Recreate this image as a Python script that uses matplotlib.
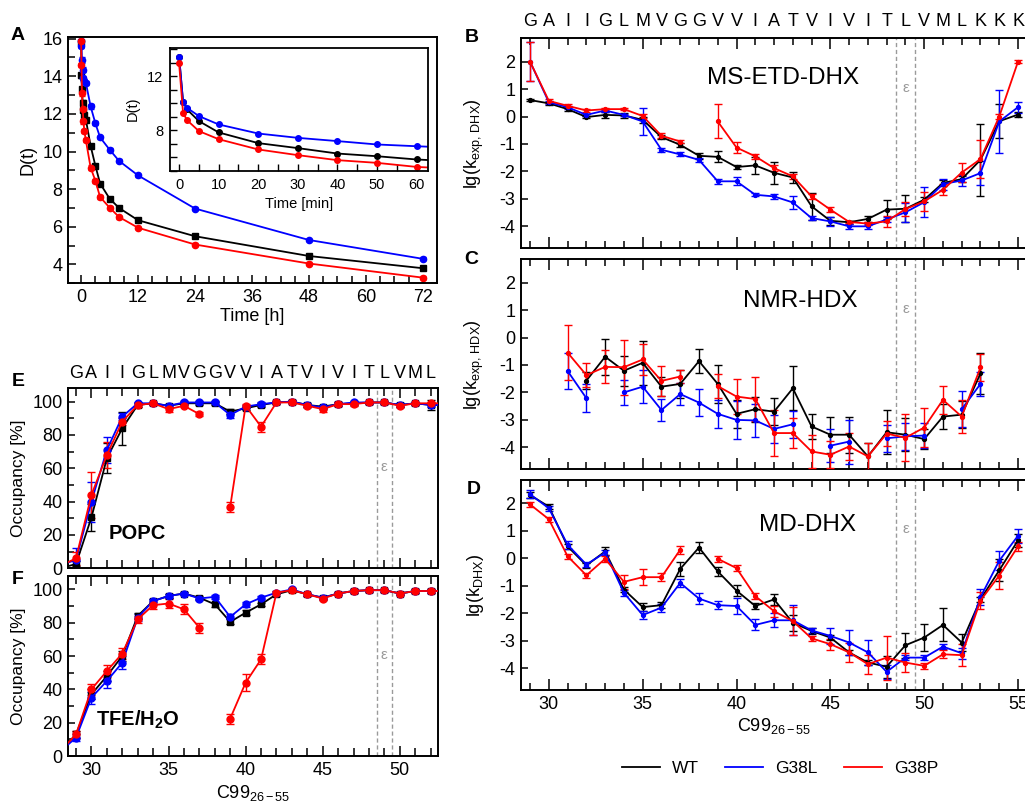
import numpy as np
import matplotlib
matplotlib.use('Agg')
import matplotlib.pyplot as plt
from matplotlib.ticker import MultipleLocator
from matplotlib.lines import Line2D

plt.rcParams['font.family'] = ['Liberation Sans', 'DejaVu Sans']
plt.rcParams['mathtext.fontset'] = 'custom'
plt.rcParams['mathtext.rm'] = 'Liberation Sans'
plt.rcParams['mathtext.it'] = 'Liberation Sans:italic'
plt.rcParams['mathtext.bf'] = 'Liberation Sans:bold'
plt.rcParams['axes.unicode_minus'] = False

nan = np.nan
variants = ['WT', 'G38L', 'G38P']
colors = {'WT': '#000000', 'G38L': '#0000ff', 'G38P': '#ff0000'}

# ---------------- Panel A (hours) ----------------
time_h = [0, 0.08, 0.17, 0.33, 0.5, 0.67, 1, 2, 3, 4, 6, 8, 12, 24, 48, 72]
A_WT = [15.8, 14.05, 13.3, 12.6, 12.2, 11.95, 11.7, 10.3, 9.25, 8.3, 7.5, 7.0, 6.35, 5.5, 4.45, 3.8]
A_G38L = [15.85, 15.6, 14.85, 14.35, 13.9, 13.75, 13.65, 12.4, 11.5, 10.75, 10.1, 9.5, 8.73, 6.97, 5.3, 4.3]
A_G38P = [15.85, 14.6, 13.1, 12.25, 11.6, 11.1, 10.6, 9.15, 8.45, 7.58, 7.02, 6.52, 5.95, 5.06, 4.05, 3.3]
A_err = [0.1, 0.12, 0.15, 0.15, 0.12, 0.1, 0.1, 0.12, 0.1, 0.1, 0.08, 0.08, 0.06, 0.08, 0.06, 0.08]

# inset (minutes)
time_min = [0, 1, 2, 5, 10, 20, 30, 40, 50, 60, 90]
I_WT = [13.43, 10.1, 9.53, 8.67, 7.83, 7.04, 6.67, 6.27, 6.07, 5.83, 5.4]
I_G38L = [13.43, 10.1, 9.65, 9.04, 8.42, 7.75, 7.43, 7.19, 6.94, 6.81, 6.45]
I_G38P = [12.94, 9.28, 8.74, 7.93, 7.33, 6.57, 6.15, 5.78, 5.58, 5.28, 4.85]

# ---------------- Panels B-D (residues 29-55) ----------------
residues = list(range(29, 56))
seq = ['G', 'A', 'I', 'I', 'G', 'L', 'M', 'V', 'G', 'G', 'V', 'V', 'I', 'A', 'T',
       'V', 'I', 'V', 'I', 'T', 'L', 'V', 'M', 'L', 'K', 'K', 'K']

B_WT = [0.6, 0.48, 0.27, -0.02, 0.06, 0.04, -0.12, -0.75, -1.03, -1.43, -1.47, -1.84, -1.78, -2.05,
        -2.22, -3.27, -3.8, -3.85, -3.73, -3.39, -3.36, -3.03, -2.42, -2.28, -1.58, -0.17, 0.07]
B_WT_err = [0.05, 0.05, 0.07, 0.05, 0.1, 0.1, 0.1, 0.07, 0.08, 0.1, 0.2, 0.08, 0.3, 0.4, 0.2,
            0.5, 0.15, 0.05, 0.1, 0.35, 0.5, 0.1, 0.1, 0.1, 1.3, 0.62, 0.1]
B_G38L = [2.0, 0.52, 0.34, 0.06, 0.22, 0.06, -0.18, -1.21, -1.38, -1.58, -2.36, -2.36, -2.85, -2.91,
          -3.13, -3.7, -3.82, -4.0, -4.0, -3.75, -3.49, -3.12, -2.46, -2.33, -2.06, -0.18, 0.34]
B_G38L_err = [0.7, 0.05, 0.05, 0.05, 0.05, 0.05, 0.5, 0.07, 0.07, 0.08, 0.08, 0.15, 0.05, 0.1, 0.25,
              0.08, 0.15, 0.1, 0.1, 0.1, 0.35, 0.55, 0.2, 0.2, 0.45, 1.15, 0.2]
B_G38P = [2.0, 0.57, 0.39, 0.22, 0.27, 0.27, 0.02, -0.7, -0.91, nan, -0.18, -1.13, -1.45, -1.88,
          -2.18, -2.91, -3.39, -3.84, -3.9, -3.82, -3.37, -3.09, -2.67, -2.04, -1.55, 0.0, 2.0]
B_G38P_err = [0.7, 0.08, 0.05, 0.05, 0.05, 0.05, 0.08, 0.1, 0.07, nan, 0.62, 0.2, 0.1, 0.1, 0.1,
              0.1, 0.08, 0.05, 0.05, 0.2, 0.25, 0.35, 0.2, 0.35, 0.7, 0.1, 0.05]

C_WT = [nan, nan, nan, -1.57, -0.70, -1.21, -0.92, -1.79, -1.69, -0.86, -1.69, -2.78, -2.61, -2.70,
        -1.85, -3.24, -3.54, -3.54, -4.33, -3.45, -3.54, -3.70, -2.88, -2.81, -1.31, nan, nan]
C_WT_err = [nan, nan, nan, 0.3, 0.65, 0.55, 0.8, 0.35, 0.5, 0.45, 0.7, 0.5, 0.45, 0.5, 0.8, 0.45,
            0.65, 0.65, 0.5, 0.8, 0.6, 0.35, 0.45, 0.5, 0.75, nan, nan]
C_G38L = [nan, nan, -1.22, -2.21, nan, -2.0, -1.79, -2.64, -2.06, -2.37, -2.78, -3.0, -3.02, -3.33,
          -3.16, nan, -3.94, -3.79, nan, -3.67, -3.6, -3.57, nan, -2.61, -1.69, nan, nan]
C_G38L_err = [nan, nan, 0.65, 0.5, nan, 0.45, 0.6, 0.4, 0.4, 0.5, 0.5, 0.7, 0.6, 0.5, 0.5, nan,
              0.6, 0.8, nan, 0.5, 0.5, 0.45, nan, 0.65, 0.45, nan, nan]
C_G38P = [nan, nan, -0.55, -1.37, -1.07, -1.08, -0.80, -1.58, -1.42, nan, -1.77, -2.15, -2.24, -3.48,
          -3.48, -4.15, -4.27, -3.97, -4.33, -3.5, -3.65, -3.28, -2.27, -2.88, -1.09, nan, nan]
C_G38P_err = [nan, nan, 1.0, 0.45, 0.6, 1.0, 0.55, 0.55, 0.25, nan, 0.45, 0.65, 0.8, 0.85, 0.55,
              0.6, 0.5, 0.5, 0.5, 0.45, 0.85, 0.7, 0.5, 0.6, 0.5, nan, nan]

D_WT = [2.30, 1.88, 0.43, -0.26, 0.25, -1.14, -1.78, -1.71, -0.39, 0.39, -0.48, -1.18, -1.74, -1.50,
        -2.35, -2.65, -2.89, -3.43, -3.80, -3.95, -3.17, -2.89, -2.43, -3.07, -1.50, -0.44, 0.65]
D_WT_err = [0.1, 0.08, 0.1, 0.1, 0.15, 0.1, 0.15, 0.1, 0.25, 0.2, 0.15, 0.2, 0.1, 0.2, 0.3, 0.1,
            0.1, 0.1, 0.1, 0.4, 0.45, 0.5, 0.6, 0.3, 0.1, 0.4, 0.25]
D_G38L = [2.33, 1.82, 0.49, -0.23, 0.21, -1.26, -2.07, -1.80, -0.90, -1.47, -1.71, -1.74, -2.43, -2.26,
          -2.26, -2.63, -2.83, -3.07, -3.43, -4.14, -3.62, -3.62, -3.22, -3.46, -1.42, -0.09, 0.82]
D_G38L_err = [0.15, 0.1, 0.15, 0.1, 0.1, 0.1, 0.15, 0.15, 0.15, 0.2, 0.15, 0.3, 0.2, 0.25, 0.55,
              0.1, 0.3, 0.45, 0.45, 0.25, 0.1, 0.1, 0.1, 0.2, 0.3, 0.35, 0.25]
D_G38P = [1.96, 1.42, 0.07, -0.62, -0.02, -0.86, -0.69, -0.69, 0.31, nan, -0.02, -0.36, -1.38, -1.93,
          -2.29, -2.92, -3.13, -3.43, -3.86, -3.62, -3.80, -3.92, -3.50, -3.53, -1.54, -0.63, 0.43]
D_G38P_err = [0.1, 0.1, 0.1, 0.1, 0.1, 0.25, 0.3, 0.15, 0.15, nan, 0.1, 0.1, 0.1, 0.2, 0.5, 0.1,
              0.2, 0.35, 0.35, 0.8, 0.35, 0.1, 0.15, 0.4, 0.3, 0.5, 0.15]

# ---------------- Panels E-F (residues 28-53) ----------------
res_EF = list(range(28, 54))
seq_EF = ['G', 'A', 'I', 'I', 'G', 'L', 'M', 'V', 'G', 'G', 'V', 'V', 'I', 'A', 'T',
          'V', 'I', 'V', 'I', 'T', 'L', 'V', 'M', 'L']
E_WT = [0, 2.6, 30.5, 66, 84, 98, 99, 97.5, 99, 99, 99, 94, 96, 98, 99.5, 100, 98, 97, 98.5, 99,
        99.5, 99.5, 98, 99, 98, 98]
E_WT_err = [0, 1.5, 8, 9, 10, 1, 1, 1, 1, 1, 1, 1.5, 1, 1, 1, 1, 1, 1, 1, 1, 1, 1, 1, 1, 3, 1]
E_G38L = [2, 5, 40, 71, 91, 99, 99, 97.5, 99.5, 99.5, 99.5, 92, 97, 98.5, 99.5, 100, 98, 96.5, 98.5,
          99.5, 99.5, 99.5, 98, 99, 98, 98]
E_G38L_err = [0, 7, 12, 8, 2, 1, 1, 1, 1, 1, 1, 2, 1, 1, 1, 1, 1, 1, 1, 1, 1, 1, 1, 1, 1, 1]
E_G38P = [1.5, 6, 44, 68, 88, 98, 99, 95.5, 97.5, 92.5, nan, 37, 97.5, 85, 99.5, 99.5, 97.5, 95.5,
          98.5, 98.5, 99.5, 99.5, 97.5, 99, 99, 99]
E_G38P_err = [0, 4, 14, 8, 2, 1, 1, 1.5, 1, 1, nan, 3, 1, 3, 1, 1, 1, 1.5, 1, 1, 1, 1, 1, 1, 1, 1]

F_WT = [3, 13, 37, 48, 60, 84, 93, 96, 97.5, 95, 91, 80.5, 86, 91, 97, 99.5, 97, 95, 97.5, 99, 99.5,
        99.5, 97.5, 99, 99, 99]
F_WT_err = [1, 2, 3, 3, 3, 2, 1.5, 1, 1, 1, 1.5, 1.5, 1.5, 1, 1, 1, 1, 1, 1, 1, 1, 1, 1, 1, 1, 1]
F_G38L = [3, 11, 35, 45, 56, 83, 93, 96, 97.5, 94.5, 95.5, 83.5, 91, 95, 98, 100, 97, 95, 97.5, 99,
          99.5, 99.5, 97.5, 99, 99, 99]
F_G38L_err = [1, 2, 3.5, 4, 4, 2, 1.5, 1, 1, 1, 1, 1.5, 1.5, 1, 1, 1, 1, 1, 1, 1, 1, 1, 1, 1, 1, 1]
F_G38P = [3, 13, 40, 51, 61.5, 82, 90.5, 91.5, 88, 77, nan, 22.5, 44, 58, 98, 99.5, 97, 94.5, 97.5,
          99, 99.5, 99.5, 97.5, 99, 99, 99]
F_G38P_err = [1, 2, 3.5, 3.5, 3.5, 2, 2, 2.5, 3, 3, nan, 3, 5, 3, 1, 1, 1, 1, 1, 1, 1, 1, 1, 1, 1, 1]

# ---------------- Figure ----------------
W, H = 1025, 805
fig = plt.figure(figsize=(W / 100, H / 100), dpi=100)


def add_ax(l, t, r, b):
    return fig.add_axes([l / W, 1 - b / H, (r - l) / W, (b - t) / H])


def base_style(ax, lsize=13):
    for s in ax.spines.values():
        s.set_linewidth(1.4)
    ax.tick_params(which='both', direction='in', width=1.1, labelsize=lsize, pad=4)


# Panel A
axA = add_ax(68.3, 36.7, 436.7, 283.3)
base_style(axA)
for v, vals, mk in [('WT', A_WT, 's'), ('G38L', A_G38L, 'o'), ('G38P', A_G38P, 'o')]:
    axA.errorbar(time_h, vals, yerr=A_err, color=colors[v], marker=mk, ms=4.5, lw=1.3,
                 capsize=2.5, elinewidth=1.0, capthick=1.0)
axA.set_xlim(-2.7, 74.9)
axA.set_ylim(3, 16.1)
axA.xaxis.set_major_locator(MultipleLocator(12))
axA.xaxis.set_minor_locator(MultipleLocator(3))
axA.yaxis.set_major_locator(MultipleLocator(2))
axA.yaxis.set_minor_locator(MultipleLocator(1))
axA.tick_params(which='major', length=6)
axA.tick_params(which='minor', length=5)
axA.tick_params(top=False, right=False, which='both')
axA.set_xlabel('Time [h]', fontsize=13)
axA.set_ylabel('D(t)', fontsize=13)
axA.xaxis.set_label_coords(0.5, -0.1)
axA.yaxis.set_label_coords(-0.085, 0.5)

# Inset
axI = add_ax(170, 47.7, 427.7, 170.7)
for s in axI.spines.values():
    s.set_linewidth(1.3)
axI.tick_params(which='both', direction='in', width=1.0, labelsize=10.5, pad=5)
for v, vals in [('WT', I_WT), ('G38L', I_G38L), ('G38P', I_G38P)]:
    axI.plot(time_min, vals, color=colors[v], marker='o', ms=4, lw=1.3)
axI.set_xlim(-2.3, 62.8)
axI.set_ylim(5, 14.1)
axI.xaxis.set_major_locator(MultipleLocator(10))
axI.xaxis.set_minor_locator(MultipleLocator(5))
axI.yaxis.set_major_locator(MultipleLocator(4))
axI.yaxis.set_minor_locator(MultipleLocator(1))
axI.tick_params(which='both', length=5)
axI.set_xlabel('Time [min]', fontsize=10.5, labelpad=4)
axI.set_ylabel('D(t)', fontsize=10.5, labelpad=5)

# Panels B-D
axB = add_ax(520.7, 38.3, 1027.4, 248.3)
axC = add_ax(520.7, 259.3, 1027.4, 469.3)
axD = add_ax(520.7, 480.0, 1027.4, 690.0)
panels = [
    (axB, [B_WT, B_G38L, B_G38P], [B_WT_err, B_G38L_err, B_G38P_err], 'MS-ETD-DHX', 42.5, 0.81,
     r'lg(k$_{\mathregular{exp,\,DHX}}$)'),
    (axC, [C_WT, C_G38L, C_G38P], [C_WT_err, C_G38L_err, C_G38P_err], 'NMR-HDX', 43.4, 0.80,
     r'lg(k$_{\mathregular{exp,\,HDX}}$)'),
    (axD, [D_WT, D_G38L, D_G38P], [D_WT_err, D_G38L_err, D_G38P_err], 'MD-DHX', 43.8, 0.786,
     r'lg(k$_{\mathregular{DHX}}$)'),
]
for ax, series, errs, title, tx, ty, ylab in panels:
    base_style(ax)
    ax.axvline(48.5, color='#9a9a9a', ls=(0, (3, 2)), lw=1.0, zorder=1)
    ax.axvline(49.5, color='#9a9a9a', ls=(0, (3, 2)), lw=1.0, zorder=1)
    ax.text(49.0, 0.765, 'ε', transform=ax.get_xaxis_transform(), ha='center', va='center',
            fontsize=11, color='#9a9a9a')
    for v, vals, err in zip(variants, series, errs):
        ax.errorbar(residues, vals, yerr=err, color=colors[v], marker='o', ms=2.8, lw=1.3,
                    capsize=3, elinewidth=1.0, capthick=1.0, zorder=3)
    ax.set_xlim(28.5, 55.5)
    ax.set_ylim(-4.8, 2.85)
    ax.xaxis.set_major_locator(MultipleLocator(5))
    ax.xaxis.set_minor_locator(MultipleLocator(1))
    ax.yaxis.set_major_locator(MultipleLocator(1))
    ax.tick_params(axis='x', which='both', top=True, bottom=True)
    ax.tick_params(axis='x', which='major', length=8)
    ax.tick_params(axis='x', which='minor', length=5)
    ax.tick_params(axis='y', which='major', length=5, right=False)
    ax.text(tx, ty, title, transform=ax.get_xaxis_transform(), ha='center', va='center',
            fontsize=17.5)
    ax.set_ylabel(ylab, fontsize=13)
    ax.yaxis.set_label_coords(-0.068, 0.5)
axB.tick_params(labelbottom=False)
axC.tick_params(labelbottom=False)
axD.set_xlabel(r'C99$_{26-55}$', fontsize=13)
axD.xaxis.set_label_coords(0.5, -0.125)
for r, letter in zip(residues, seq):
    axB.text(r, 1.082, letter, transform=axB.get_xaxis_transform(), ha='center', va='center',
             fontsize=13)

# Panels E-F
axE = add_ax(68.3, 388.3, 438.4, 568.3)
axF = add_ax(68.3, 576.0, 438.4, 756.0)
for ax, series, errs, lab, ly in [
        (axE, [E_WT, E_G38L, E_G38P], [E_WT_err, E_G38L_err, E_G38P_err], 'POPC', 0.196),
        (axF, [F_WT, F_G38L, F_G38P], [F_WT_err, F_G38L_err, F_G38P_err], r'TFE/H$_{\mathbf{2}}$O', 0.2)]:
    base_style(ax)
    ax.axvline(48.5, color='#9a9a9a', ls=(0, (3, 2)), lw=1.0, zorder=1)
    ax.axvline(49.5, color='#9a9a9a', ls=(0, (3, 2)), lw=1.0, zorder=1)
    ax.text(48.95, 0.563, 'ε', transform=ax.get_xaxis_transform(), ha='center', va='center',
            fontsize=11, color='#9a9a9a')
    for v, vals, err in zip(variants, series, errs):
        ax.errorbar(res_EF, vals, yerr=err, color=colors[v], marker='s' if v == 'WT' else 'o',
                    ms=5, lw=1.3, capsize=3, elinewidth=1.0, capthick=1.0, zorder=3)
    ax.set_xlim(28.5, 52.5)
    ax.set_ylim(0, 108)
    ax.xaxis.set_major_locator(MultipleLocator(5))
    ax.xaxis.set_minor_locator(MultipleLocator(1))
    ax.yaxis.set_major_locator(MultipleLocator(20))
    ax.yaxis.set_minor_locator(MultipleLocator(10))
    ax.tick_params(axis='x', which='both', top=True, bottom=True)
    ax.tick_params(axis='x', which='major', length=7)
    ax.tick_params(axis='x', which='minor', length=6)
    ax.tick_params(axis='y', which='major', length=5)
    ax.tick_params(axis='y', which='minor', length=4)
    ax.text(33.0, ly, lab, transform=ax.get_xaxis_transform(), ha='center', va='center',
            fontsize=14.5, fontweight='bold')
    ax.set_ylabel('Occupancy [%]', fontsize=12.5)
    ax.yaxis.set_label_coords(-0.115, 0.5)
axE.tick_params(labelbottom=False)
axF.set_xlabel(r'C99$_{26-55}$', fontsize=13)
axF.xaxis.set_label_coords(0.5, -0.15)
for r, letter in zip(res_EF[1:], seq_EF):
    axE.text(r, 1.083, letter, transform=axE.get_xaxis_transform(), ha='center', va='center',
             fontsize=13)

# Panel letters
for lab, x, y in [('A', 18, 36), ('B', 472, 37), ('C', 471, 260), ('D', 474, 489),
                  ('E', 18, 381), ('F', 18, 579)]:
    fig.text(x / W, 1 - y / H, lab, fontsize=14, fontweight='bold', ha='center', va='center')

# Legend
handles = [Line2D([], [], color=colors[v], lw=1.3) for v in variants]
fig.legend(handles, variants, loc='center', bbox_to_anchor=(780 / W, 1 - 768 / H), ncol=3,
           frameon=False, fontsize=12.5, handlelength=2.2, columnspacing=1.5, handletextpad=0.7)

fig.savefig('out.png', dpi=100)
